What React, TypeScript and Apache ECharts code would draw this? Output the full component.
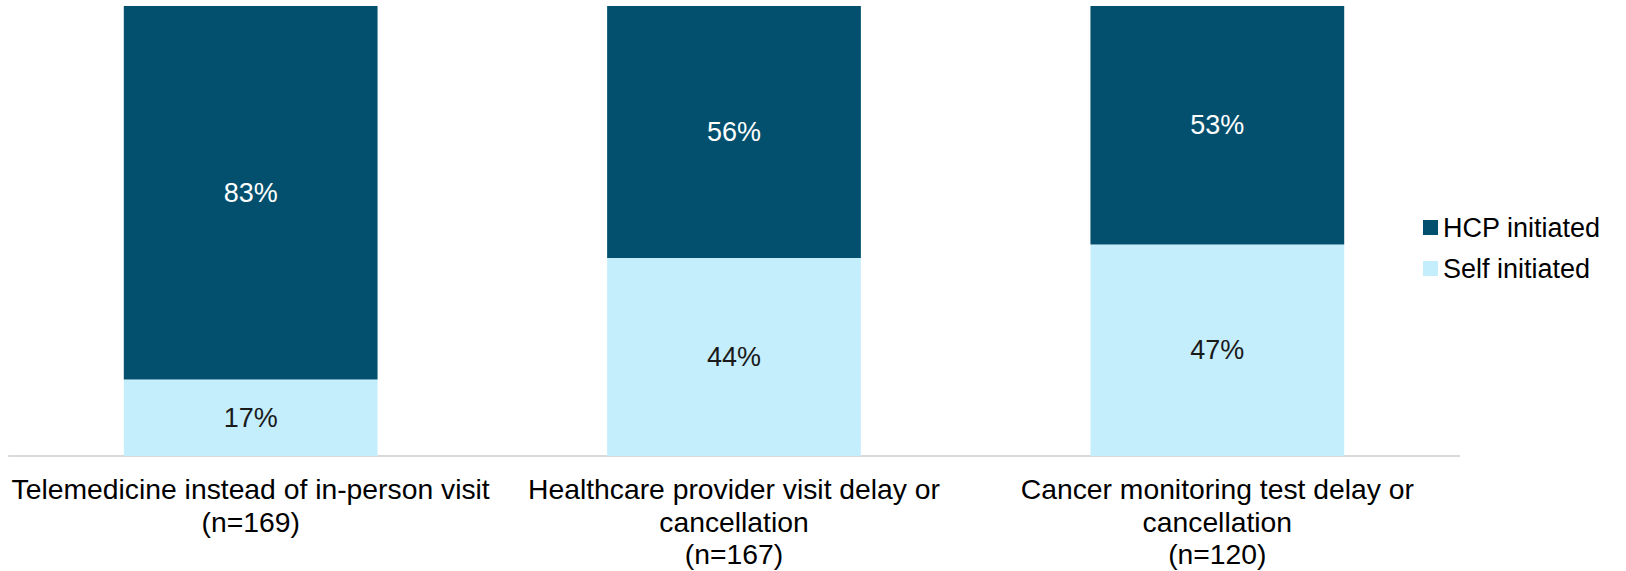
import React, { useEffect, useRef } from "react";
import * as echarts from "echarts";

const categories = [
  "Telemedicine instead of in-person visit\n(n=169)",
  "Healthcare provider visit delay or\ncancellation\n(n=167)",
  "Cancer monitoring test delay or\ncancellation\n(n=120)",
];
const selfInitiated = [17, 44, 47];
const hcpInitiated = [83, 56, 53];

const FONT = "'Liberation Sans', Arial, sans-serif";
const DARK = "#02506E";
const LIGHT = "#C5EEFD";

export default function App() {
  const ref = useRef<HTMLDivElement>(null);

  useEffect(() => {
    if (!ref.current) return;
    const chart = echarts.init(ref.current, undefined, { renderer: "svg" });
    chart.setOption({
      animation: false,
      backgroundColor: "#ffffff",
      textStyle: { fontFamily: FONT },
      grid: { left: 9, right: 167, top: 6, bottom: 115 },
      legend: {
        orient: "vertical",
        left: 1418,
        top: 209,
        icon: "rect",
        itemWidth: 15,
        itemHeight: 15,
        itemGap: 14,
        data: ["HCP initiated", "Self initiated"],
        textStyle: {
          fontFamily: FONT,
          fontSize: 27,
          color: "#000000",
          lineHeight: 15,
          padding: [0, 0, 0, 0],
        },
      },
      xAxis: {
        type: "category",
        data: categories,
        axisTick: { show: false },
        axisLine: { lineStyle: { color: "#D9D9D9", width: 2 } },
        axisLabel: {
          interval: 0,
          margin: 17,
          fontFamily: FONT,
          fontSize: 28.3,
          lineHeight: 32.5,
          color: "#000000",
        },
      },
      yAxis: {
        type: "value",
        min: 0,
        max: 100,
        show: false,
        splitLine: { show: false },
      },
      series: [
        {
          name: "Self initiated",
          type: "bar",
          stack: "total",
          data: selfInitiated,
          barCategoryGap: "47.5%",
          itemStyle: { color: LIGHT },
          label: {
            show: true,
            position: "inside",
            formatter: "{c}%",
            fontFamily: FONT,
            fontSize: 27,
            color: "#1A1A1A",
          },
        },
        {
          name: "HCP initiated",
          type: "bar",
          stack: "total",
          data: hcpInitiated,
          barCategoryGap: "47.5%",
          itemStyle: { color: DARK },
          label: {
            show: true,
            position: "inside",
            formatter: "{c}%",
            fontFamily: FONT,
            fontSize: 27,
            color: "#FFFFFF",
          },
        },
      ],
    });
    return () => chart.dispose();
  }, []);

  return (
    <div
      ref={ref}
      style={{ position: "absolute", left: 0, top: 0, width: 1626, height: 571 }}
    />
  );
}
